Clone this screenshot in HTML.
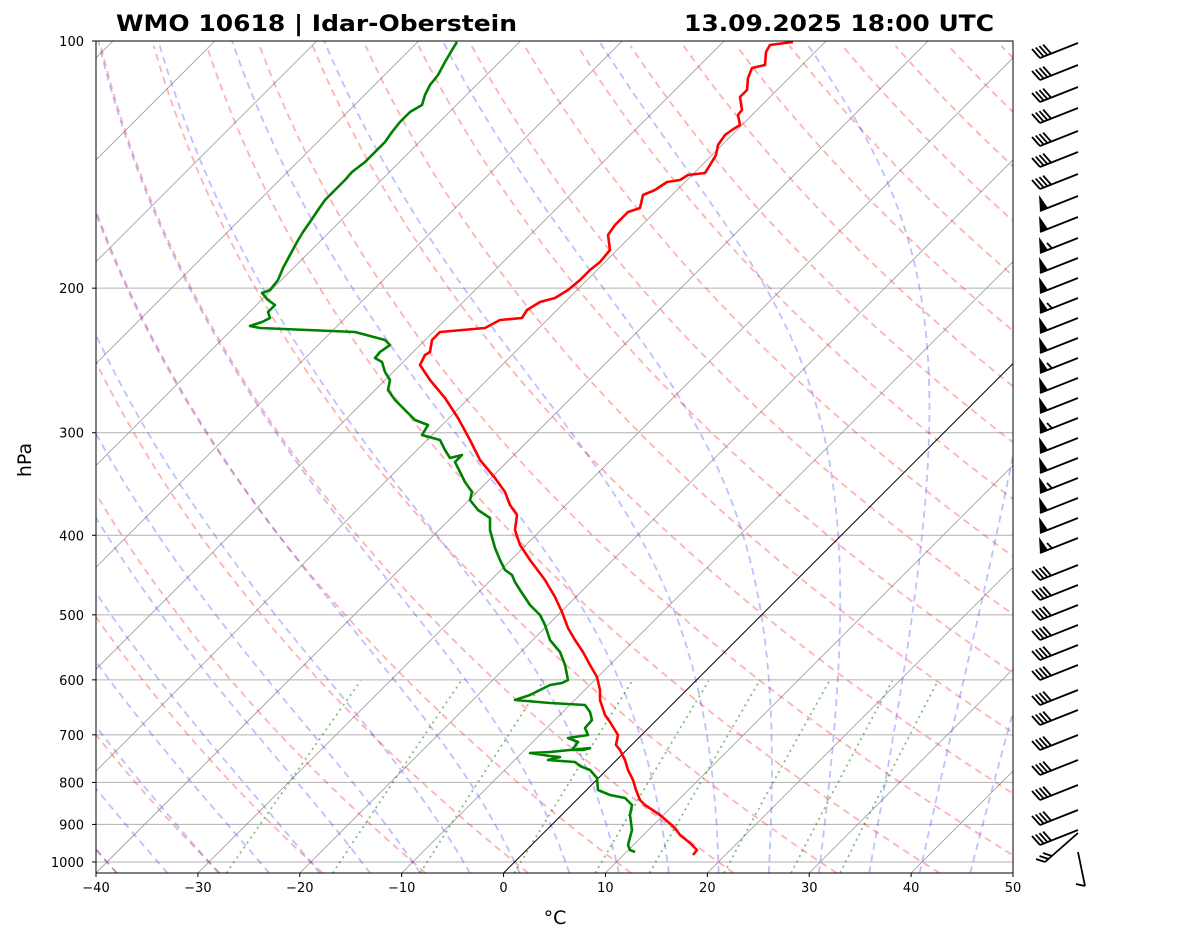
<!DOCTYPE html>
<html><head><meta charset="utf-8"><style>
html,body{margin:0;padding:0;background:#fff;}
svg{display:block;font-family:"DejaVu Sans","Liberation Sans",sans-serif;}
</style></head><body>
<svg id="s" width="1181" height="941" xmlns="http://www.w3.org/2000/svg">
<defs><clipPath id="c"><rect x="96" y="41" width="917" height="832"/></clipPath></defs>
<g id="bg" clip-path="url(#c)"></g>
<g id="fg" clip-path="url(#c)"></g>
<rect x="96" y="41" width="917" height="832" fill="none" stroke="#000" stroke-width="1"/>
<g id="ax" font-size="13" fill="#000"></g>
<text x="116" y="31" font-size="22" font-weight="bold" textLength="401" lengthAdjust="spacingAndGlyphs">WMO 10618 | Idar-Oberstein</text>
<text x="684" y="31" font-size="22" font-weight="bold" textLength="310" lengthAdjust="spacingAndGlyphs">13.09.2025 18:00 UTC</text>
<text x="555" y="924" font-size="19" text-anchor="middle">°C</text>
<text x="31" y="460" font-size="19" text-anchor="middle" transform="rotate(-90 31 460)">hPa</text>
<g id="barbs"></g>
</svg>
<script>
var NS="http://www.w3.org/2000/svg";
function el(par,tag,at){var e=document.createElementNS(NS,tag);for(var k in at)e.setAttribute(k,at[k]);document.getElementById(par).appendChild(e);return e;}
function Y(p){return 41+821*Math.log10(p/100);}
var PB=100*Math.pow(10,832/821);
function X(T,p){return 96+(T+40)*917/90+(873-Y(p));}
function poly(par,pts,st){el(par,"polyline",Object.assign({points:pts.map(function(a){return a[0].toFixed(1)+","+a[1].toFixed(1)}).join(" "),fill:"none"},st));}
[100,200,300,400,500,600,700,800,900,1000].forEach(function(p){
 el("bg","line",{x1:96,x2:1013,y1:Y(p),y2:Y(p),stroke:"#b0b0b0","stroke-width":1});
 var t=el("ax","text",{x:84,y:Y(p)+5,"text-anchor":"end"});t.textContent=p;
 el("ax","line",{x1:92,x2:96,y1:Y(p),y2:Y(p),stroke:"#000"});
});
for(var T=-40;T<=50;T+=10){var x=96+(T+40)*917/90;var t=el("ax","text",{x:x,y:892,"text-anchor":"middle"});t.textContent=(T<0?"\u2212"+(-T):T);el("ax","line",{x1:x,x2:x,y1:873,y2:877,stroke:"#000"});}
for(var T=-160;T<=50;T+=10){if(T==0)continue;poly("bg",[[X(T,PB),Y(PB)],[X(T,100),Y(100)]],{stroke:"#999","stroke-width":0.8});}
poly("fg",[[X(0,PB),Y(PB)],[X(0,100),Y(100)]],{stroke:"#000","stroke-width":1});
for(var T0=-60;T0<=200;T0+=10){var th=T0+273.15,pts=[];for(var p=PB;p>=99;p-=5){pts.push([X(th*Math.pow(p/1000,0.2857)-273.15,p),Y(p)]);}
 poly("bg",pts,{stroke:"rgba(255,0,0,0.3)","stroke-width":1.8,"stroke-dasharray":"7,5"});}
function es(Tc){return 6.112*Math.exp(17.67*Tc/(Tc+243.5));}
function dTdp(T,p){var Tc=T-273.15,e=es(Tc),rs=0.622*e/(p-e),Lv=2.501e6,Rd=287.04,Cp=1005.7;return (Rd*T+Lv*rs)/(Cp+Lv*Lv*rs*0.622/(Rd*T*T))/p;}
for(var T0=-50;T0<=45;T0+=5){var up=[],T=T0+273.15,p=1000;
 for(;p>=100;p-=2){up.push([X(T-273.15,p),Y(p)]);var k1=dTdp(T,p),k2=dTdp(T-k1,p-2);T-=2*(k1+k2)/2;}
 var dn=[];T=T0+273.15;p=1000;for(;p<=PB+2;p+=2){dn.unshift([X(T-273.15,p),Y(p)]);var k1=dTdp(T,p);T+=2*k1;}
 poly("bg",dn.concat(up),{stroke:"rgba(0,0,255,0.25)","stroke-width":1.8,"stroke-dasharray":"7,5"});}
[0.0004,0.001,0.002,0.004,0.007,0.01,0.016,0.024,0.032].forEach(function(w){var pts=[];for(var p=PB;p>=600;p-=10){var e=p*w/(0.622+w),l=Math.log(e/6.112),Td=243.5*l/(17.67-l);pts.push([X(Td,p),Y(p)]);}
 poly("bg",pts,{stroke:"rgba(0,128,0,0.5)","stroke-width":1.8,"stroke-dasharray":"2,4"});});
var red=[[793,42],[770,45],[766,52],[765,65],[752,68],[748,78],[747,90],[740,97],[742,110],[738,115],[740,125],[732,130],[725,135],[718,145],[716,155],[710,165],[705,173],[688,175],[680,180],[667,182],[655,190],[643,195],[640,208],[628,212],[615,225],[608,235],[610,250],[600,262],[590,270],[580,280],[568,290],[555,298],[540,302],[527,310],[522,318],[500,320],[485,328],[440,332],[432,340],[430,352],[425,355],[420,365],[430,380],[445,398],[458,418],[470,440],[480,460],[495,478],[505,492],[510,505],[517,515],[515,530],[520,545],[530,560],[545,580],[555,597],[562,612],[568,628],[575,640],[583,652],[590,665],[597,677],[600,690],[600,700],[605,715],[610,722],[618,735],[616,745],[620,750],[625,760],[628,770],[633,780],[636,790],[640,800],[645,805],[660,815],[675,828],[680,835],[690,843],[697,850],[693,855]];
var grn=[[457,42],[452,50],[445,62],[438,75],[430,85],[425,95],[422,105],[410,112],[400,122],[392,132],[385,142],[375,152],[365,162],[352,172],[345,180],[335,190],[325,200],[318,210],[310,222],[303,232],[297,242],[290,255],[283,268],[278,280],[270,290],[262,293],[268,300],[275,305],[268,312],[270,318],[262,322],[250,326],[260,328],[355,332],[385,340],[390,345],[380,352],[375,358],[382,362],[385,372],[390,380],[388,390],[395,400],[405,410],[415,420],[428,425],[422,435],[440,440],[445,450],[450,458],[462,455],[455,462],[460,472],[465,482],[472,492],[470,500],[478,510],[490,518],[490,530],[495,548],[500,560],[505,570],[512,575],[515,582],[520,590],[530,605],[540,615],[545,625],[550,640],[560,652],[565,665],[568,680],[562,683],[550,685],[540,690],[530,695],[515,700],[550,703],[585,705],[590,712],[592,720],[585,728],[588,735],[568,738],[578,742],[572,750],[583,750],[590,748],[550,752],[530,753],[550,756],[560,757],[548,760],[575,762],[580,766],[590,770],[597,778],[598,790],[610,795],[625,798],[632,805],[630,815],[632,830],[628,845],[630,850],[635,852]];
poly("fg",red,{stroke:"#f00","stroke-width":2.6,"stroke-linejoin":"round"});
poly("fg",grn,{stroke:"#008000","stroke-width":2.6,"stroke-linejoin":"round"});
var ys=[43,65,87,108,131,152,174,196,217,238,258,278,298,318,338,358,378,398,418,438,458,478,498,518,538,565,585,605,625,645,665,690,710,735,760,785,810,830];
ys.forEach(function(y,i){var x0=1078,y0=y,x1=1040,y1=y+15;
 el("barbs","line",{x1:x0,y1:y0,x2:x1,y2:y1,stroke:"#000","stroke-width":1.8});
 if(y>=185&&y<=545){el("barbs","polygon",{points:x1+","+y1+" "+(x1+8)+","+(y1-3)+" "+(x1-1)+","+(y1-16),fill:"#000"});
  if(i%3==0){el("barbs","line",{x1:x1+12,y1:y1-4.7,x2:x1+7,y2:y1-10,stroke:"#000","stroke-width":1.8});}}
 else{var n=4;for(var k=0;k<n;k++){var bx=x1+k*4*38/41,by=y1-k*4*15/41;el("barbs","line",{x1:bx,y1:by,x2:bx-8,y2:by-9,stroke:"#000","stroke-width":1.8});}}
});
el("barbs","line",{x1:1078,y1:833,x2:1045,y2:862,stroke:"#000","stroke-width":1.8});
[0,1,2].forEach(function(k){var bx=1045+k*3.5,by=862-k*3;el("barbs","line",{x1:bx,y1:by,x2:bx-9,y2:by-3,stroke:"#000","stroke-width":1.8});});
el("barbs","line",{x1:1078,y1:852,x2:1085,y2:886,stroke:"#000","stroke-width":1.8});
el("barbs","line",{x1:1085,y1:886,x2:1076,y2:884,stroke:"#000","stroke-width":1.8});
</script>
</body></html>
